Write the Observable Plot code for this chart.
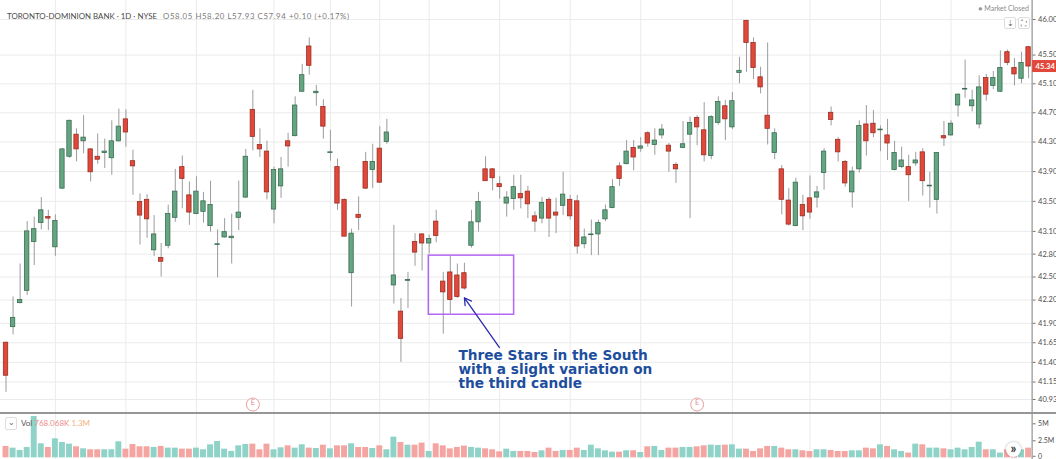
<!DOCTYPE html>
<html><head><meta charset="utf-8">
<script src="https://cdn.jsdelivr.net/npm/d3@7"></script>
<script src="https://cdn.jsdelivr.net/npm/@observablehq/plot@0.6"></script>
<style>
body{margin:0;background:#fff;overflow:hidden;font-family:Lato,"Open Sans",sans-serif}
#wrap{position:relative;width:1056px;height:459px}
#wrap svg{display:block}
.sep{height:2px;background:#969696;width:1056px}
.ov{position:absolute;white-space:nowrap;line-height:1}
</style></head><body>
<div id="wrap"></div>
<script>
// ---- data ----
const opens  = [41.65,41.85,42.16,42.32,42.96,43.21,43.29,42.89,43.67,44.10,44.40,44.31,44.20,44.10,44.15,44.08,44.31,44.61,44.04,43.49,43.52,42.85,42.75,42.91,43.28,43.96,43.58,43.33,43.36,43.17,42.92,43.02,43.01,43.28,43.55,44.74,44.26,44.17,43.39,43.70,44.31,44.38,44.99,45.62,44.97,44.78,44.15,43.96,43.52,42.55,43.32,44.03,43.92,44.21,44.30,42.39,42.05,42.45,42.96,43.06,42.94,43.23,42.44,42.56,42.52,42.55,42.91,43.22,43.93,43.93,43.73,43.47,43.53,43.60,43.63,43.30,43.27,43.52,43.35,43.44,43.52,43.50,42.93,43.05,43.06,43.26,43.41,43.97,44.00,44.22,44.21,44.42,44.26,44.39,44.25,43.99,44.22,44.40,44.63,44.46,44.11,44.56,44.79,44.50,45.25,45.98,45.67,45.19,44.66,44.15,43.93,43.51,43.17,43.45,43.54,43.55,43.88,44.70,44.33,44.03,43.62,43.93,44.54,44.55,44.46,44.39,43.92,43.96,43.96,44.01,44.16,43.70,43.52,44.38,44.39,44.80,45.02,44.79,44.54,45.18,45.07,44.99,45.54,45.32,45.17,45.61];
const highs  = [41.66,42.24,42.67,43.23,43.29,43.55,43.38,43.32,44.21,44.60,44.48,44.66,44.21,44.41,44.34,44.59,44.75,44.74,44.19,43.60,43.59,43.31,42.94,43.45,43.93,44.11,43.76,43.83,43.62,43.77,43.12,43.27,43.33,43.77,44.20,45.01,44.48,44.31,43.96,44.09,44.42,44.92,45.37,45.74,45.08,44.88,44.46,44.07,43.53,43.13,43.56,44.16,44.27,44.51,44.61,43.18,42.22,42.56,43.07,43.07,43.05,43.38,42.56,42.77,42.67,42.68,43.38,43.62,44.10,43.94,43.83,43.63,43.85,43.85,43.70,43.36,43.55,43.55,43.54,43.89,43.58,43.58,43.13,43.25,43.25,43.45,43.79,44.02,44.32,44.32,44.36,44.44,44.48,44.54,44.28,44.02,44.58,44.64,44.66,44.84,44.66,44.92,44.87,44.98,45.47,45.99,45.74,45.33,45.67,44.48,43.98,43.67,43.81,43.58,43.84,43.70,44.21,44.78,44.36,44.05,43.96,44.59,44.80,44.73,44.52,44.61,44.31,44.23,44.12,44.16,44.21,43.89,44.15,44.58,44.59,44.96,45.43,45.01,45.21,45.23,45.27,45.56,45.57,45.45,45.54,45.62];
const lows   = [41.02,41.75,42.15,42.26,42.65,43.12,43.11,42.77,43.66,44.08,44.03,44.14,43.76,44.00,43.94,43.85,44.30,44.23,43.58,42.92,43.01,42.77,42.50,42.87,43.22,43.40,43.18,43.32,43.21,43.09,42.49,43.01,42.67,43.11,43.54,44.18,44.09,43.52,43.20,43.54,43.96,44.37,44.98,45.22,44.79,44.34,44.04,43.38,43.03,42.11,43.11,43.66,43.67,43.74,44.27,42.15,41.40,42.09,42.64,42.58,42.80,42.95,41.76,42.02,42.22,42.33,42.88,43.09,43.77,43.64,43.53,43.29,43.38,43.40,43.27,43.09,43.20,43.02,43.07,43.31,43.25,42.80,42.87,42.78,42.78,43.23,43.40,43.70,43.99,43.91,44.16,44.23,44.12,44.34,43.89,43.74,44.21,43.27,44.25,44.03,44.06,44.53,44.32,44.47,45.10,45.26,45.16,44.96,44.26,44.06,43.32,43.17,43.16,43.11,43.26,43.41,43.65,44.52,44.03,43.69,43.41,43.88,44.11,44.36,44.17,44.05,43.91,43.94,43.50,43.97,43.57,43.41,43.33,44.24,44.38,44.64,44.90,44.71,44.48,44.86,45.02,44.98,45.35,45.07,45.10,45.17];
const closes = [41.23,41.97,42.20,43.10,43.13,43.38,43.27,43.24,44.20,44.59,44.20,44.36,43.89,44.06,44.17,44.31,44.51,44.43,43.97,43.31,43.26,43.06,42.70,43.33,43.63,43.80,43.35,43.63,43.50,43.45,42.93,43.09,43.03,43.35,44.10,44.37,44.20,43.62,43.92,43.93,44.24,44.80,45.22,45.35,44.99,44.51,44.16,43.47,43.03,43.07,43.28,43.67,44.03,43.75,44.43,42.52,41.70,42.46,42.82,42.94,43.00,43.04,42.30,42.20,42.24,42.35,43.22,43.49,43.77,43.81,43.69,43.55,43.69,43.54,43.46,43.23,43.48,43.27,43.31,43.59,43.30,42.90,43.02,43.06,43.21,43.38,43.69,43.80,44.17,44.09,44.24,44.28,44.32,44.47,44.17,43.93,44.27,44.56,44.50,44.12,44.64,44.85,44.61,44.86,45.28,45.67,45.32,45.05,44.48,44.42,43.52,43.19,43.75,43.30,43.35,43.62,44.17,44.60,44.16,43.74,43.90,44.52,44.31,44.42,44.47,44.28,44.15,44.05,43.85,44.05,43.77,43.71,44.15,44.35,44.55,44.95,45.03,44.87,45.05,44.95,45.18,45.32,45.39,45.23,45.39,45.34];
// volume in millions of shares
const volumes = [1.67,1.42,1.08,1.52,6.08,2.06,1.52,2.79,2.25,2.01,1.62,1.32,1.18,1.18,1.18,1.18,2.35,1.27,1.96,1.62,1.62,1.52,1.67,1.42,1.42,1.27,1.27,1.42,1.18,1.91,2.40,1.27,0.93,1.76,1.96,2.01,1.18,2.01,1.18,1.47,1.76,1.42,1.91,1.42,1.37,1.86,1.32,1.76,1.76,2.06,1.52,1.52,1.37,1.76,1.18,3.04,2.25,1.86,1.86,2.16,0.93,2.06,1.76,1.32,1.52,1.72,1.52,1.42,1.32,1.18,0.88,1.27,0.93,0.93,0.93,0.78,1.03,1.42,0.93,1.08,1.08,1.42,1.08,1.86,1.32,1.03,0.83,0.83,1.03,1.03,0.78,1.62,1.67,1.08,1.42,1.42,1.52,1.52,1.62,1.76,1.86,1.81,1.86,1.91,1.27,1.27,0.93,1.32,1.67,1.67,1.42,1.18,1.18,1.03,0.93,1.18,1.18,1.08,0.93,0.93,1.03,1.03,1.42,1.32,1.91,1.67,1.18,0.93,0.69,2.01,1.91,1.42,1.42,1.32,1.18,1.42,1.18,1.52,2.30,1.18,1.18,0.69,1.18,0.93,1.18,1.42];
const priceTicks = [46.00,45.50,45.10,44.70,44.30,43.90,43.50,43.10,42.80,42.50,42.20,41.90,41.65,41.40,41.15,40.93];
const volTicks = [2.5, 5];
const volZero = [0];
const gridIdx = [7,17,27,38,46,53,60,70,80,90,103,114,124,134];   // date gridlines (bar index)
const earningsIdx = [35, 98];
const lastPrice = 45.34;
const header = "TORONTO-DOMINION BANK · 1D · NYSE";
const ohlcText = "O58.05 H58.20 L57.93 C57.94 +0.10 (+0.17%)";
const annoLines = ["Three Stars in the South", "with a slight variation on", "the third candle"];
const annoBox = {i1: 59.95, i2: 72.05, p1: 42.78, p2: 42.01};
const annoArrow = {i1: 69.95, p1: 41.59, i2: 65.0, p2: 42.23};
const annoTextPos = {i: 64.15, p: 41.55};

// ---- styles ----
const green = "#64a582", greenEdge = "#3a6d52", red = "#e1483a", redEdge = "#9a2e24";
const volGreen = "#8fd3c8", volRed = "#f4a5a2";
const gridColor = "#ebebeb";

const N = opens.length;
const bars = d3.range(N).map(i => ({i, o: opens[i], h: highs[i], l: lows[i], c: closes[i], v: volumes[i], up: closes[i] >= opens[i]}));
const xDomain = [-0.5, N - 0.5];
const xRange = [2, 1031.6];
const W = 1056;
const bodyHalf = 0.31, volHalf = 0.42;
const baseStyle = {background: "transparent", fontFamily: "Lato, 'Open Sans', sans-serif", fontSize: "8px", color: "#4d4d4d", overflow: "visible"};

const main = Plot.plot({
  width: W, height: 412,
  marginLeft: 0, marginRight: W - xRange[1], marginTop: 0, marginBottom: 0,
  style: baseStyle,
  x: {type: "linear", domain: xDomain, range: xRange, axis: null, label: null},
  y: {type: "log", domain: [40.93, 46], range: [399, 19], label: null},
  color: {type: "identity"},
  marks: [
    Plot.ruleY(priceTicks, {stroke: gridColor}),
    Plot.ruleX(gridIdx, {stroke: gridColor}),
    Plot.ruleX(bars, {x: "i", y1: "l", y2: "h", stroke: "#9c9c9c", strokeWidth: 1}),
    Plot.rect(bars, {x1: d => d.i - bodyHalf, x2: d => d.i + bodyHalf, y1: "o", y2: "c",
      fill: d => d.up ? green : red, stroke: d => d.up ? greenEdge : redEdge, strokeWidth: 0.8}),
    Plot.axisY({anchor: "right", label: null, ticks: priceTicks, tickFormat: d => d.toFixed(2), tickSize: 3, tickPadding: 3, fontSize: 7.5, stroke: "#777"}),
    Plot.ruleX([N - 0.5], {stroke: "#7d7d7d"}),
    Plot.dot(earningsIdx, {x: d => d, frameAnchor: "bottom", dy: -8, r: 6.5, stroke: "#e6a0a0", fill: "white", strokeWidth: 1}),
    Plot.text(earningsIdx, {x: d => d, frameAnchor: "bottom", dy: -8, text: () => "E", fill: "#de8d8d", fontSize: 7.5}),
    Plot.rect([annoBox], {x1: "i1", x2: "i2", y1: "p1", y2: "p2", fill: "none", stroke: "#b367f2", strokeWidth: 1.5}),
    Plot.arrow([annoArrow], {x1: "i1", y1: "p1", x2: "i2", y2: "p2", stroke: "#2c2cb0", strokeWidth: 1.3, headLength: 9}),
    Plot.text([annoLines.join("\n")], {x: annoTextPos.i, y: annoTextPos.p, text: d => d, textAnchor: "start", lineAnchor: "top",
      fontSize: 13.7, fontWeight: "bold", fill: "#1d4e9e", fontFamily: "DejaVu Sans", lineHeight: 1.02})
  ]
});

// last price label on the axis
{
  const yy = main.scale("y").apply(lastPrice);
  const svg = d3.select(main);
  const g = svg.append("g");
  g.append("rect").attr("x", xRange[1] + 0.5).attr("y", yy - 6).attr("width", W - xRange[1] - 0.5).attr("height", 12).attr("fill", red);
  g.append("text").attr("x", xRange[1] + 4).attr("y", yy).attr("dy", "0.35em").attr("fill", "white")
    .attr("text-anchor", "start").attr("font-size", 7.5).attr("font-family", "Lato, sans-serif").attr("font-weight", "bold")
    .text(lastPrice.toFixed(2));
}

const vol = Plot.plot({
  width: W, height: 45,
  marginLeft: 0, marginRight: W - xRange[1], marginTop: 0, marginBottom: 0,
  style: baseStyle,
  x: {type: "linear", domain: xDomain, range: xRange, axis: null, label: null},
  y: {domain: [0, 5], range: [43.3, 9.3], label: null},
  color: {type: "identity"},
  marks: [
    Plot.ruleX(gridIdx, {stroke: gridColor}),
    Plot.rect(bars, {x1: d => d.i - volHalf, x2: d => d.i + volHalf, y1: 0, y2: "v", fill: d => d.up ? volGreen : volRed}),
    Plot.axisY({anchor: "right", label: null, ticks: volTicks, tickFormat: d => d + "M", tickSize: 3, tickPadding: 3, fontSize: 7, stroke: "#777"}),
    Plot.axisY({anchor: "right", label: null, ticks: volZero, tickFormat: () => "0", tickSize: 3, tickPadding: 3, fontSize: 7, stroke: "#777", dy: -1.5}),
    Plot.ruleX([N - 0.5], {stroke: "#7d7d7d"})
  ]
});

const wrap = document.getElementById("wrap");
wrap.appendChild(main);
const sep = document.createElement("div"); sep.className = "sep"; wrap.appendChild(sep);
wrap.appendChild(vol);

function ov(html, css) {
  const d = document.createElement("div");
  d.className = "ov"; d.innerHTML = html; Object.assign(d.style, css); wrap.appendChild(d); return d;
}
ov(`<span style="font-size:7.9px;color:#4a4a4a">${header}</span><span style="font-size:7.8px;color:#7a7a7a;margin-left:6px;letter-spacing:0.6px">${ohlcText}</span>`, {left: "7px", top: "5px"});
ov(`<span style="color:#9a9a9a">●</span> Market Closed`, {right: "27px", top: "5px", fontSize: "7px", color: "#8a8a8a"});
ov("⇣", {left: "1004px", top: "17px", width: "10px", height: "10px", border: "1px solid #ddd", borderRadius: "2px", fontSize: "8px", color: "#666", textAlign: "center", lineHeight: "10px", background: "#fff"});
ov("⛶", {left: "1018px", top: "17px", width: "10px", height: "10px", border: "1px solid #ddd", borderRadius: "2px", fontSize: "8px", color: "#666", textAlign: "center", lineHeight: "10px", background: "#fff"});
ov("⌄", {left: "5px", top: "417px", width: "10px", height: "11px", border: "1px solid #ddd", borderRadius: "2px", fontSize: "8px", color: "#666", textAlign: "center", lineHeight: "8px", background: "#fff"});
ov(`<span style="color:#555">Vol</span> <span style="color:#ee8e8b">768.068K</span> <span style="color:#f3b27a">1.3M</span>`, {left: "21px", top: "419px", fontSize: "8px"});
ov("»", {left: "1006px", top: "442px", width: "15px", height: "15px", borderRadius: "8px", background: "#fff", boxShadow: "0 0 3px rgba(0,0,0,0.3)", fontSize: "13px", fontWeight: "bold", color: "#333", textAlign: "center", lineHeight: "13px"});
</script>
</body></html>
